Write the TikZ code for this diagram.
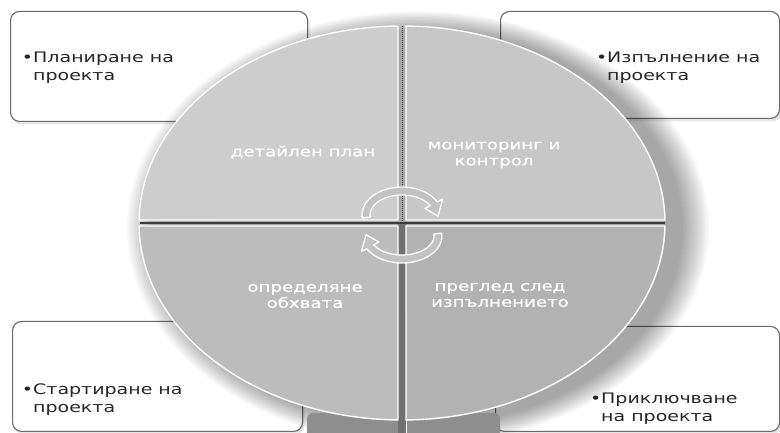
\documentclass[tikz,border=0pt]{standalone}
\usepackage{fontspec}
\newfontfamily\boxfont[FakeStretch=1.31]{DejaVu Sans}
\newfontfamily\labfont[FakeStretch=1.3,FakeBold=0.6]{DejaVu Sans}
\usetikzlibrary{calc,shadows}
\definecolor{boxline}{HTML}{6A6A6A}
\definecolor{qTL}{HTML}{CDCDCD}
\definecolor{qTR}{HTML}{C7C7C7}
\definecolor{qBL}{HTML}{BCBCBC}
\definecolor{qBR}{HTML}{B2B2B2}
\definecolor{arrowfill}{HTML}{C2C2C2}
\definecolor{pedestal}{HTML}{8E8E8E}
\definecolor{gapdark}{HTML}{3C3C3C}
\definecolor{stripdark}{HTML}{707070}
\begin{document}
\begin{tikzpicture}[x=1pt,y=1pt,
  boxsty/.style={draw=boxline, line width=1.1pt, fill=white, rounded corners=9pt,
    rectangle, anchor=south west, inner sep=0pt,
    drop shadow={shadow xshift=2pt, shadow yshift=-3pt, opacity=0.18}},
  boxtext/.style={font=\boxfont\fontsize{14.5}{18}\selectfont, align=left,
    text=black!85, inner sep=0pt, anchor=base west},
  labtext/.style={font=\labfont\fontsize{14}{16}\selectfont, align=center,
    text=white, inner sep=0pt},
  quad/.style={draw=white, line width=1.4pt},
  cyclearrow/.style={fill=arrowfill, draw=white, line width=1.3pt, line join=round}]
\useasboundingbox (0,0) rectangle (780,433);
\fill[white] (0,0) rectangle (780,433);
\begin{scope}
\clip (0,0) rectangle (780,433);
% corner boxes
\node[boxsty, minimum width=297pt, minimum height=110pt] (bTL) at (10,311) {};
\node[boxsty, minimum width=279pt, minimum height=107pt] (bTR) at (500,314) {};
\node[boxsty, minimum width=290pt, minimum height=110pt] (bBL) at (12,1) {};
\node[boxsty, minimum width=284pt, minimum height=105pt] (bBR) at (495,1) {};
% soft shadow of the circle
\foreach \i in {1,...,14}{
  \pgfmathsetmacro{\rxx}{263+2*\i}
  \pgfmathsetmacro{\ryy}{197+1.4*\i}
  \fill[black, opacity=0.028] (418,205) ellipse [x radius=\rxx pt, y radius=\ryy pt];
}
% pedestal below the circle
\fill[pedestal, rounded corners=6pt] (307,-10) rectangle (500,20);
\draw[white, line width=1pt] (398,0) -- (398,20) (406,0) -- (406,20);
% gaps
\coordinate (c) at (402,210);
\fill[stripdark] (398,0) rectangle (406,210);
\draw[gapdark, line width=1.3pt] (140,210) -- (665,210);
\draw[gapdark, line width=1pt, densely dotted] (402,210) -- (402,407);
% quadrants
\path[quad, fill=qTL] ($(c)+(-4,3)$) -- ($(c)+(90.87:263pt and 197pt)$)
  arc[start angle=90.87, end angle=179.13, x radius=263pt, y radius=197pt] -- cycle;
\path[quad, fill=qTR] ($(c)+(4,3)$) -- ($(c)+(89.13:263pt and 197pt)$)
  arc[start angle=89.13, end angle=0.87, x radius=263pt, y radius=197pt] -- cycle;
\path[quad, fill=qBL] ($(c)+(-4,-3)$) -- ($(c)+(180.87:263pt and 197pt)$)
  arc[start angle=180.87, end angle=269.13, x radius=263pt, y radius=197pt] -- cycle;
\path[quad, fill=qBR] ($(c)+(4,-3)$) -- ($(c)+(270.87:263pt and 197pt)$)
  arc[start angle=270.87, end angle=359.13, x radius=263pt, y radius=197pt] -- cycle;
% cycle arrows
\coordinate (t) at (402,218);
\coordinate (b) at (402,197);
\path[cyclearrow] ($(t)+(186:40pt and 28pt)$)
  arc[start angle=186, end angle=28, x radius=40pt, y radius=28pt]
  -- ($(t)+(28:46pt and 34pt)$) -- ($(t)+(-3:36pt and 24pt)$)
  -- ($(t)+(28:26pt and 14pt)$) -- ($(t)+(28:32pt and 20pt)$)
  arc[start angle=28, end angle=186, x radius=32pt, y radius=20pt] -- cycle;
\path[cyclearrow] ($(b)+(6:40pt and 27pt)$)
  arc[start angle=6, end angle=-152, x radius=40pt, y radius=27pt]
  -- ($(b)+(-152:46pt and 33pt)$) -- ($(b)+(-183:36pt and 23pt)$)
  -- ($(b)+(-152:26pt and 13pt)$) -- ($(b)+(-152:32pt and 19pt)$)
  arc[start angle=-152, end angle=6, x radius=32pt, y radius=19pt] -- cycle;
% quadrant labels
\node[labtext] (lTL) at (303,281) {детайлен план};
\node[labtext] (lTR) at (494,278) {мониторинг и\\контрол};
\node[labtext] (lBL) at (305,137) {определяне\\обхвата};
\node[labtext] (lBR) at (500,138) {преглед след\\изпълнението};
% box texts (base = baseline of the last line)
\node[boxtext] (tTL) at (33,352) {\llap{•}Планиране на\\проекта};
\node[boxtext] (tTR) at (607,352) {\llap{•}Изпълнение на\\проекта};
\node[boxtext] (tBL) at (33,20) {\llap{•}Стартиране на\\проекта};
\node[boxtext] (tBR) at (601,11) {\llap{•}Приключване\\на проекта};
\end{scope}
\end{tikzpicture}
\end{document}
